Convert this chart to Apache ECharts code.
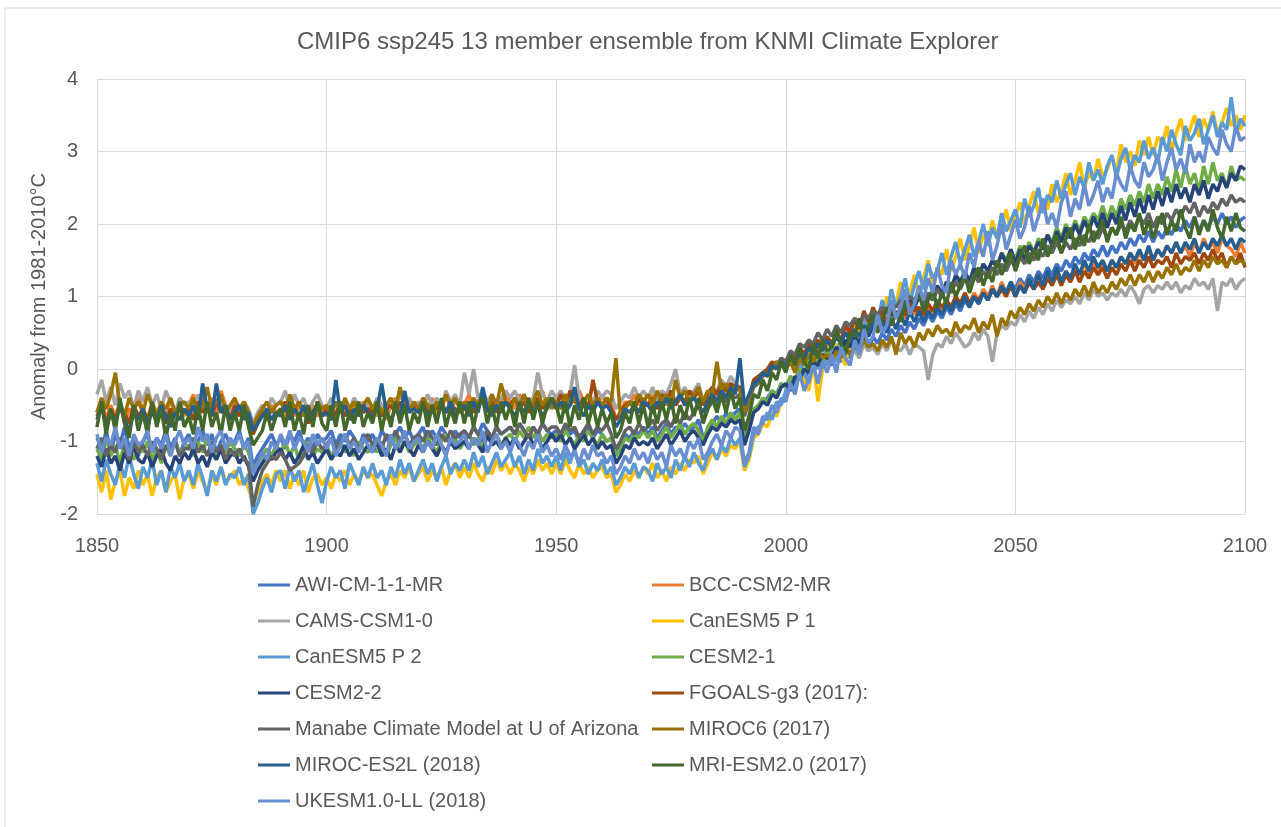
<!DOCTYPE html>
<html>
<head>
<meta charset="utf-8">
<title>CMIP6 ssp245 13 member ensemble</title>
<script src="https://cdn.jsdelivr.net/npm/echarts@6/dist/echarts.min.js"></script>
<style>
    html, body { margin: 0; padding: 0; background: #fff; }
    #chart { width: 1281px; height: 827px; }
</style>
</head>
<body>
<div id="chart"></div>
<script>
// annual values, 1850 to 2100 (one row per decade)
const startYear = 1850;

const awi = [
    -0.95,-1.1,-0.85,-1.15,-0.9,-1.05,-0.8,-1.1,-0.95,-1.2,
    -1.0,-0.9,-1.15,-0.95,-1.05,-0.85,-1.1,-0.95,-1.2,-1.0,
    -0.9,-1.1,-1.0,-0.85,-1.05,-0.9,-1.15,-1.0,-0.9,-1.05,
    -1.0,-0.85,-1.1,-0.95,-1.35,-1.2,-1.1,-1.0,-0.9,-1.05,
    -0.95,-1.1,-0.9,-1.0,-0.85,-1.05,-0.95,-1.1,-0.9,-1.0,
    -0.95,-0.85,-1.05,-0.9,-1.0,-0.85,-0.95,-1.1,-0.9,-1.0,
    -0.9,-1.05,-0.85,-0.95,-1.05,-0.9,-0.8,-0.95,-0.85,-1.0,
    -0.9,-0.8,-1.0,-0.85,-0.95,-0.8,-0.9,-1.0,-0.85,-0.95,
    -0.85,-0.95,-0.8,-0.9,-0.75,-0.85,-0.95,-0.8,-0.9,-0.85,
    -0.8,-0.9,-0.75,-0.85,-0.95,-0.8,-0.9,-0.75,-0.85,-0.9,
    -0.85,-0.95,-0.8,-0.9,-0.85,-1.0,-0.9,-0.8,-0.95,-0.85,
    -0.9,-1.0,-0.95,-1.15,-1.05,-0.9,-0.95,-0.85,-0.9,-0.8,
    -0.9,-0.8,-0.95,-0.85,-0.75,-0.9,-0.8,-0.85,-0.75,-0.85,
    -0.8,-0.7,-0.95,-0.85,-0.75,-0.65,-0.75,-0.6,-0.7,-0.6,
    -0.55,-0.95,-0.8,-0.6,-0.5,-0.45,-0.4,-0.3,-0.35,-0.2,
    -0.25,-0.15,-0.2,-0.05,-0.15,0.0,-0.05,0.1,0.0,0.15,
    0.05,0.2,0.1,0.25,0.15,0.3,0.2,0.35,0.25,0.45,
    0.35,0.5,0.4,0.55,0.45,0.6,0.5,0.65,0.55,0.7,
    0.6,0.75,0.65,0.8,0.7,0.85,0.75,0.9,0.8,0.95,
    0.85,1.0,0.9,1.05,0.95,1.1,1.0,1.15,1.05,1.2,
    1.1,1.25,1.15,1.3,1.2,1.35,1.25,1.4,1.3,1.45,
    1.35,1.5,1.4,1.55,1.45,1.6,1.5,1.65,1.55,1.7,
    1.55,1.7,1.6,1.75,1.65,1.8,1.7,1.85,1.75,1.9,
    1.75,1.9,1.8,1.95,1.85,2.0,1.9,2.05,1.95,2.1,
    1.9,2.05,1.95,2.1,2.0,2.15,2.0,2.1,1.95,2.05,
    2.1
];
const bcc = [
    -0.6,-0.4,-0.7,-0.5,-0.65,-0.45,-0.75,-0.55,-0.6,-0.4,
    -0.55,-0.7,-0.45,-0.6,-0.5,-0.7,-0.4,-0.6,-0.5,-0.65,
    -0.5,-0.35,-0.6,-0.3,-0.55,-0.4,-0.65,-0.3,-0.5,-0.6,
    -0.45,-0.65,-0.5,-0.6,-0.85,-0.7,-0.55,-0.65,-0.5,-0.6,
    -0.55,-0.7,-0.45,-0.65,-0.5,-0.6,-0.75,-0.5,-0.65,-0.55,
    -0.65,-0.5,-0.7,-0.55,-0.45,-0.65,-0.5,-0.6,-0.45,-0.55,
    -0.5,-0.65,-0.55,-0.7,-0.5,-0.4,-0.6,-0.5,-0.45,-0.55,
    -0.6,-0.45,-0.55,-0.4,-0.6,-0.5,-0.35,-0.55,-0.45,-0.5,
    -0.5,-0.35,-0.55,-0.45,-0.3,-0.5,-0.4,-0.55,-0.45,-0.35,
    -0.45,-0.55,-0.35,-0.5,-0.4,-0.55,-0.45,-0.3,-0.5,-0.4,
    -0.45,-0.55,-0.35,-0.5,-0.4,-0.3,-0.45,-0.55,-0.4,-0.5,
    -0.35,-0.5,-0.45,-0.7,-0.6,-0.45,-0.5,-0.35,-0.5,-0.4,
    -0.5,-0.35,-0.55,-0.4,-0.5,-0.3,-0.45,-0.35,-0.5,-0.3,
    -0.4,-0.25,-0.5,-0.35,-0.3,-0.4,-0.25,-0.35,-0.2,-0.3,
    -0.25,-0.6,-0.45,-0.2,-0.15,-0.05,-0.1,0.0,0.1,0.05,
    0.0,0.15,0.05,0.2,0.1,0.25,0.15,0.3,0.2,0.35,
    0.3,0.45,0.35,0.55,0.45,0.65,0.5,0.7,0.6,0.8,
    0.65,0.75,0.6,0.8,0.7,0.85,0.7,0.9,0.75,0.85,
    0.7,0.85,0.75,0.9,0.8,0.95,0.85,1.0,0.9,1.05,
    0.9,1.05,0.95,1.1,1.0,1.15,1.0,1.2,1.05,1.15,
    1.0,1.2,1.1,1.25,1.1,1.3,1.15,1.3,1.2,1.35,
    1.2,1.35,1.25,1.4,1.3,1.45,1.3,1.5,1.35,1.45,
    1.35,1.5,1.4,1.55,1.45,1.6,1.45,1.6,1.5,1.65,
    1.5,1.65,1.55,1.7,1.6,1.75,1.6,1.7,1.55,1.75,
    1.6,1.8,1.65,1.75,1.6,1.8,1.7,1.65,1.55,1.75,
    1.6
];
const cams = [
    -0.35,-0.15,-0.45,-0.25,-0.5,-0.2,-0.4,-0.3,-0.55,-0.3,
    -0.45,-0.25,-0.5,-0.35,-0.55,-0.3,-0.45,-0.6,-0.4,-0.5,
    -0.45,-0.6,-0.35,-0.55,-0.45,-0.65,-0.4,-0.55,-0.5,-0.6,
    -0.5,-0.65,-0.45,-0.55,-0.75,-0.6,-0.5,-0.6,-0.4,-0.5,
    -0.45,-0.3,-0.55,-0.35,-0.5,-0.4,-0.6,-0.45,-0.35,-0.5,
    -0.55,-0.4,-0.5,-0.6,-0.45,-0.55,-0.4,-0.5,-0.6,-0.45,
    -0.55,-0.4,-0.5,-0.6,-0.45,-0.55,-0.35,-0.5,-0.4,-0.55,
    -0.45,-0.55,-0.35,-0.5,-0.4,-0.55,-0.3,-0.45,-0.35,-0.5,
    -0.05,-0.35,0.0,-0.4,-0.3,-0.45,-0.35,-0.5,-0.4,-0.3,
    -0.4,-0.3,-0.45,-0.35,-0.5,-0.4,-0.05,-0.35,-0.45,-0.3,
    -0.4,-0.3,-0.45,-0.35,0.05,-0.4,-0.5,-0.35,-0.45,-0.3,
    -0.4,-0.3,-0.35,-0.55,-0.45,-0.35,-0.4,-0.25,-0.4,-0.3,
    -0.4,-0.25,-0.45,-0.3,-0.35,-0.2,0.0,-0.35,-0.25,-0.4,
    -0.3,-0.2,-0.45,-0.35,-0.25,-0.3,-0.15,-0.25,-0.1,-0.2,
    -0.25,-0.5,-0.4,-0.2,-0.15,-0.1,-0.05,0.0,0.1,0.05,
    0.0,0.1,0.05,0.15,0.05,0.2,0.1,0.15,0.25,0.15,
    0.1,0.2,0.15,0.3,0.2,0.25,0.15,0.35,0.25,0.3,
    0.2,0.35,0.25,0.4,0.3,0.25,0.35,0.2,0.35,0.3,
    0.25,-0.15,0.2,0.35,0.3,0.45,0.35,0.5,0.4,0.3,
    0.35,0.5,0.4,0.55,0.45,0.1,0.5,0.6,0.55,0.65,
    0.6,0.75,0.65,0.8,0.7,0.85,0.75,0.9,0.8,0.95,
    0.85,0.95,0.9,1.0,0.9,1.05,0.95,1.1,1.0,1.05,
    0.95,1.05,1.0,1.1,1.0,1.15,1.05,0.9,1.1,1.15,
    1.05,1.15,1.1,1.2,1.1,1.2,1.05,1.15,1.1,1.25,
    1.15,1.2,1.1,1.25,0.8,1.2,1.15,1.25,1.1,1.2,
    1.25
];
const canesmP1 = [
    -1.45,-1.7,-1.4,-1.8,-1.55,-1.4,-1.75,-1.5,-1.65,-1.4,
    -1.6,-1.45,-1.75,-1.5,-1.4,-1.7,-1.55,-1.45,-1.8,-1.5,
    -1.45,-1.65,-1.4,-1.55,-1.7,-1.45,-1.6,-1.35,-1.55,-1.5,
    -1.4,-1.6,-1.5,-1.65,-1.85,-1.7,-1.55,-1.45,-1.6,-1.4,
    -1.55,-1.4,-1.65,-1.45,-1.6,-1.4,-1.7,-1.5,-1.45,-1.6,
    -1.5,-1.65,-1.45,-1.55,-1.4,-1.6,-1.45,-1.55,-1.4,-1.5,
    -1.45,-1.6,-1.75,-1.55,-1.45,-1.6,-1.4,-1.5,-1.35,-1.55,
    -1.45,-1.35,-1.55,-1.4,-1.5,-1.35,-1.6,-1.4,-1.3,-1.5,
    -1.35,-1.5,-1.3,-1.45,-1.55,-1.35,-1.45,-1.25,-1.4,-1.3,
    -1.45,-1.3,-1.4,-1.55,-1.35,-1.45,-1.25,-1.4,-1.3,-1.45,
    -1.3,-1.45,-1.25,-1.4,-1.5,-1.3,-1.45,-1.35,-1.5,-1.4,
    -1.35,-1.5,-1.45,-1.7,-1.6,-1.45,-1.55,-1.4,-1.5,-1.35,
    -1.45,-1.3,-1.5,-1.4,-1.55,-1.35,-1.45,-1.3,-1.4,-1.25,
    -1.3,-1.2,-1.45,-1.3,-1.15,-1.25,-1.1,-1.2,-1.05,-1.1,
    -1.0,-1.4,-1.25,-0.95,-0.9,-0.75,-0.8,-0.6,-0.65,-0.45,
    -0.4,-0.2,-0.35,0.05,-0.15,-0.3,0.1,-0.45,0.0,0.15,
    0.1,0.35,0.2,0.05,0.45,0.3,0.55,0.4,0.75,0.5,
    0.8,0.6,1.0,0.75,0.9,1.2,0.8,1.05,1.3,1.0,
    1.25,1.5,1.15,1.4,1.3,1.65,1.35,1.55,1.8,1.5,
    1.7,1.95,1.6,1.85,1.75,2.05,1.8,1.95,2.2,1.9,
    2.1,2.3,2.0,2.25,2.45,2.15,2.35,2.2,2.55,2.3,
    2.45,2.7,2.4,2.6,2.85,2.5,2.7,2.6,2.9,2.65,
    2.75,2.95,2.7,3.1,2.85,3.0,2.8,3.15,2.95,3.2,
    2.95,3.2,3.1,3.35,3.0,3.25,3.45,3.15,3.3,3.5,
    3.2,3.45,3.3,3.55,3.25,3.4,3.6,3.35,3.5,3.3,
    3.5
];
const canesmP2 = [
    -1.3,-1.55,-1.25,-1.45,-1.6,-1.3,-1.5,-1.2,-1.45,-1.65,
    -1.35,-1.5,-1.25,-1.6,-1.4,-1.7,-1.35,-1.5,-1.3,-1.55,
    -1.4,-1.6,-1.3,-1.5,-1.75,-1.4,-1.55,-1.35,-1.6,-1.45,
    -1.5,-1.35,-1.6,-1.45,-2.0,-1.85,-1.65,-1.5,-1.7,-1.45,
    -1.4,-1.65,-1.35,-1.55,-1.4,-1.7,-1.5,-1.3,-1.6,-1.85,
    -1.55,-1.35,-1.5,-1.4,-1.65,-1.3,-1.45,-1.6,-1.35,-1.5,
    -1.3,-1.5,-1.4,-1.6,-1.35,-1.5,-1.25,-1.45,-1.3,-1.55,
    -1.4,-1.25,-1.45,-1.3,-1.55,-1.35,-1.2,-1.45,-1.3,-1.4,
    -1.25,-1.4,-1.15,-1.35,-1.2,-1.45,-1.3,-1.15,-1.35,-1.25,
    -1.15,-1.35,-1.2,-1.45,-1.25,-1.4,-1.1,-1.3,-1.2,-1.35,
    -1.2,-1.4,-1.15,-1.3,-1.1,-1.35,-1.25,-1.45,-1.3,-1.4,
    -1.25,-1.45,-1.35,-1.6,-1.5,-1.35,-1.45,-1.3,-1.5,-1.35,
    -1.4,-1.55,-1.3,-1.45,-1.35,-1.5,-1.25,-1.4,-1.2,-1.35,
    -1.15,-1.3,-1.4,-1.2,-1.1,-1.25,-1.05,-1.15,-0.95,-1.05,
    -0.95,-1.35,-1.2,-0.9,-0.8,-0.75,-0.6,-0.7,-0.45,-0.5,
    -0.3,-0.1,-0.25,0.1,-0.05,-0.2,0.15,0.0,0.2,0.05,
    0.3,0.1,0.45,0.25,0.6,0.35,0.3,0.7,0.5,0.8,
    0.65,0.95,0.75,1.1,0.85,1.0,1.25,0.9,1.15,1.35,
    1.1,1.45,1.25,1.35,1.6,1.3,1.55,1.75,1.45,1.65,
    1.85,1.55,1.75,2.0,1.7,1.95,1.8,2.15,1.9,2.05,
    2.2,1.95,2.35,2.1,2.25,2.5,2.15,2.4,2.3,2.6,
    2.35,2.55,2.7,2.4,2.65,2.5,2.85,2.6,2.75,2.55,
    2.8,2.95,2.65,2.9,3.05,2.75,2.95,2.85,3.15,2.9,
    3.05,2.85,3.2,3.0,3.3,3.1,2.95,3.35,3.15,3.25,
    3.45,3.1,3.3,3.5,3.2,3.4,3.3,3.75,3.25,3.45,
    3.35
];
const cesm21 = [
    -1.1,-1.25,-0.95,-1.2,-1.05,-1.3,-1.0,-1.15,-1.25,-1.05,
    -1.15,-1.0,-1.25,-1.1,-1.3,-1.05,-1.2,-1.0,-1.15,-1.1,
    -1.05,-1.2,-1.0,-1.15,-0.95,-1.1,-1.25,-1.05,-1.15,-1.0,
    -1.1,-1.2,-1.05,-1.15,-1.4,-1.3,-1.2,-1.1,-1.2,-1.05,
    -1.15,-1.0,-1.2,-1.05,-1.25,-1.1,-1.0,-1.2,-1.1,-1.15,
    -1.05,-1.2,-1.1,-1.0,-1.15,-1.05,-1.2,-1.0,-1.1,-1.15,
    -1.05,-1.15,-1.0,-1.2,-1.05,-0.95,-1.1,-1.0,-1.15,-1.05,
    -1.0,-1.1,-0.95,-1.05,-1.15,-1.0,-0.9,-1.05,-0.95,-1.1,
    -1.0,-0.9,-1.05,-0.95,-1.1,-0.85,-1.0,-0.9,-1.05,-0.95,
    -0.9,-1.0,-0.85,-0.95,-0.8,-0.95,-0.85,-1.0,-0.9,-0.95,
    -0.9,-1.0,-0.85,-0.95,-1.05,-0.9,-1.0,-0.85,-0.95,-1.05,
    -0.9,-1.0,-0.95,-1.2,-1.1,-0.95,-1.0,-0.9,-0.95,-0.85,
    -0.95,-0.85,-1.0,-0.9,-0.8,-0.95,-0.85,-0.75,-0.9,-0.8,
    -0.75,-0.85,-1.0,-0.8,-0.7,-0.8,-0.65,-0.75,-0.6,-0.7,
    -0.6,-1.0,-0.8,-0.55,-0.5,-0.4,-0.45,-0.3,-0.35,-0.2,
    -0.25,-0.1,-0.15,0.0,-0.05,0.1,0.05,0.15,0.1,0.25,
    0.15,0.3,0.2,0.4,0.3,0.5,0.4,0.55,0.5,0.65,
    0.55,0.7,0.6,0.8,0.7,0.85,0.75,0.95,0.85,1.0,
    0.9,1.05,0.95,1.1,1.0,1.2,1.1,1.25,1.15,1.35,
    1.2,1.4,1.3,1.45,1.35,1.5,1.4,1.6,1.5,1.65,
    1.5,1.7,1.55,1.75,1.6,1.8,1.7,1.85,1.75,1.95,
    1.8,2.0,1.85,2.05,1.9,2.1,2.0,2.15,2.05,2.25,
    2.05,2.25,2.1,2.35,2.2,2.4,2.25,2.45,2.3,2.55,
    2.35,2.55,2.4,2.65,2.45,2.75,2.5,2.8,2.55,2.7,
    2.45,2.8,2.55,2.85,2.6,2.7,2.5,2.8,2.6,2.65,
    2.6
];
const cesm22 = [
    -1.2,-1.35,-1.1,-1.3,-1.2,-1.4,-1.15,-1.3,-1.05,-1.25,
    -1.3,-1.15,-1.35,-1.2,-1.1,-1.3,-1.4,-1.2,-1.3,-1.15,
    -1.25,-1.1,-1.3,-1.2,-1.35,-1.15,-1.25,-1.1,-1.3,-1.2,
    -1.15,-1.3,-1.2,-1.35,-1.55,-1.4,-1.3,-1.2,-1.25,-1.15,
    -1.1,-1.25,-1.15,-1.3,-1.2,-1.05,-1.25,-1.15,-1.3,-1.2,
    -1.1,-1.25,-1.15,-1.2,-1.05,-1.2,-1.1,-1.25,-1.15,-1.05,
    -1.15,-1.0,-1.2,-1.1,-1.25,-1.05,-1.15,-1.0,-1.1,-1.2,
    -1.05,-1.15,-1.0,-1.1,-1.2,-1.05,-1.15,-1.0,-1.1,-1.05,
    -1.0,-1.1,-0.95,-1.05,-1.15,-0.9,-1.05,-1.0,-1.1,-0.95,
    -1.05,-0.95,-1.1,-1.0,-0.9,-1.05,-0.95,-1.1,-1.0,-0.9,
    -1.0,-0.9,-1.05,-0.95,-1.1,-1.0,-0.9,-1.05,-0.95,-1.1,
    -1.0,-1.1,-1.05,-1.3,-1.2,-1.05,-1.1,-0.95,-1.05,-1.0,
    -1.05,-0.95,-1.1,-1.0,-0.9,-1.05,-0.95,-0.85,-1.0,-0.9,
    -0.85,-0.95,-1.05,-0.9,-0.8,-0.85,-0.75,-0.8,-0.7,-0.75,
    -0.7,-1.05,-0.85,-0.6,-0.55,-0.45,-0.5,-0.35,-0.4,-0.25,
    -0.2,-0.3,-0.1,-0.15,0.0,-0.05,0.1,0.05,0.2,0.15,
    0.15,0.3,0.2,0.4,0.3,0.45,0.35,0.55,0.45,0.6,
    0.55,0.7,0.6,0.8,0.7,0.85,0.8,0.95,0.85,1.0,
    0.9,1.05,0.95,1.15,1.05,1.2,1.1,1.3,1.2,1.35,
    1.2,1.4,1.25,1.45,1.35,1.5,1.4,1.6,1.45,1.65,
    1.45,1.65,1.5,1.7,1.6,1.75,1.65,1.85,1.7,1.9,
    1.75,1.95,1.8,2.0,1.85,2.05,1.9,2.1,1.95,2.15,
    1.95,2.15,2.0,2.25,2.05,2.3,2.1,2.35,2.15,2.4,
    2.2,2.45,2.25,2.5,2.3,2.55,2.35,2.5,2.3,2.55,
    2.4,2.6,2.35,2.55,2.45,2.65,2.5,2.7,2.6,2.8,
    2.75
];
const fgoals = [
    -0.65,-0.5,-0.75,-0.55,-0.7,-0.5,-0.6,-0.75,-0.5,-0.65,
    -0.55,-0.7,-0.5,-0.65,-0.6,-0.75,-0.55,-0.65,-0.5,-0.6,
    -0.55,-0.7,-0.45,-0.6,-0.5,-0.65,-0.45,-0.6,-0.55,-0.7,
    -0.5,-0.65,-0.55,-0.7,-0.9,-0.75,-0.6,-0.7,-0.55,-0.65,
    -0.6,-0.45,-0.65,-0.5,-0.7,-0.55,-0.75,-0.6,-0.5,-0.65,
    -0.55,-0.7,-0.6,-0.5,-0.65,-0.55,-0.7,-0.5,-0.6,-0.55,
    -0.6,-0.5,-0.65,-0.55,-0.5,-0.6,-0.45,-0.6,-0.55,-0.5,
    -0.55,-0.45,-0.6,-0.5,-0.55,-0.45,-0.6,-0.5,-0.55,-0.6,
    -0.55,-0.45,-0.6,-0.5,-0.4,-0.55,-0.45,-0.6,-0.5,-0.45,
    -0.5,-0.4,-0.55,-0.45,-0.6,-0.5,-0.4,-0.55,-0.45,-0.5,
    -0.5,-0.35,-0.55,-0.3,-0.45,-0.5,-0.4,-0.55,-0.15,-0.45,
    -0.5,-0.4,-0.55,-0.7,-0.6,-0.5,-0.45,-0.55,-0.4,-0.5,
    -0.5,-0.4,-0.55,-0.35,-0.45,-0.3,-0.5,-0.4,-0.45,-0.3,
    -0.4,-0.3,-0.5,-0.35,-0.25,-0.35,-0.2,-0.3,-0.2,-0.25,
    -0.25,-0.55,-0.4,-0.15,-0.1,-0.05,0.0,0.1,0.05,0.15,
    0.1,0.2,0.15,0.3,0.2,0.35,0.25,0.4,0.3,0.45,
    0.35,0.5,0.4,0.6,0.5,0.7,0.55,0.8,0.65,0.85,
    0.7,0.8,0.65,0.85,0.7,0.8,0.75,0.9,0.8,0.85,
    0.75,0.9,0.8,0.95,0.85,0.95,0.85,1.0,0.9,1.05,
    0.9,1.0,0.95,1.05,0.95,1.1,1.0,1.1,1.0,1.15,
    1.0,1.15,1.05,1.2,1.1,1.2,1.1,1.25,1.15,1.3,
    1.15,1.3,1.2,1.35,1.2,1.35,1.25,1.4,1.3,1.4,
    1.25,1.4,1.3,1.45,1.35,1.5,1.35,1.5,1.4,1.55,
    1.4,1.5,1.45,1.55,1.4,1.6,1.45,1.55,1.5,1.6,
    1.45,1.6,1.5,1.65,1.5,1.6,1.4,1.55,1.45,1.6,
    1.4
];
const manabe = [
    -1.1,-0.95,-1.2,-1.05,-1.15,-0.95,-1.1,-1.25,-1.0,-1.15,
    -1.05,-1.2,-1.0,-1.1,-1.25,-1.05,-1.15,-1.0,-1.2,-1.1,
    -1.1,-0.95,-1.15,-1.05,-1.2,-1.0,-1.15,-1.05,-1.25,-1.1,
    -1.2,-1.1,-1.25,-1.3,-1.9,-1.6,-1.4,-1.3,-1.2,-1.25,
    -1.15,-1.25,-1.4,-1.35,-1.3,-1.2,-1.05,-1.15,-1.0,-1.1,
    -1.05,-0.95,-1.1,-1.0,-0.9,-1.05,-0.95,-1.1,-1.0,-0.9,
    -1.05,-0.95,-1.1,-0.9,-1.0,-0.85,-1.0,-0.9,-1.05,-0.95,
    -0.9,-1.0,-0.85,-0.95,-1.05,-0.9,-1.0,-0.85,-0.95,-0.9,
    -0.85,-0.95,-0.8,-0.9,-1.0,-0.85,-0.95,-0.8,-0.9,-0.85,
    -0.8,-0.9,-0.75,-0.85,-0.95,-0.8,-0.9,-0.75,-0.85,-0.8,
    -0.8,-0.9,-0.75,-0.85,-0.8,-0.95,-0.85,-0.75,-0.9,-0.8,
    -0.85,-0.75,-0.9,-1.1,-1.0,-0.85,-0.8,-0.9,-0.75,-0.85,
    -0.8,-0.7,-0.85,-0.75,-0.7,-0.8,-0.65,-0.75,-0.6,-0.7,
    -0.6,-0.5,-0.7,-0.55,-0.45,-0.5,-0.4,-0.45,-0.35,-0.4,
    -0.35,-0.65,-0.45,-0.25,-0.2,-0.1,-0.05,0.05,0.0,0.15,
    0.1,0.25,0.2,0.35,0.3,0.4,0.35,0.5,0.4,0.55,
    0.45,0.6,0.5,0.65,0.6,0.7,0.6,0.75,0.7,0.8,
    0.75,0.85,0.8,0.9,0.85,0.95,0.9,1.0,0.95,1.05,
    0.9,1.05,0.95,1.1,1.0,1.15,1.05,1.2,1.1,1.25,
    1.15,1.3,1.2,1.35,1.25,1.4,1.3,1.45,1.35,1.5,
    1.4,1.55,1.45,1.6,1.5,1.65,1.55,1.7,1.6,1.75,
    1.6,1.75,1.65,1.8,1.7,1.85,1.75,1.9,1.8,1.95,
    1.8,1.95,1.85,2.0,1.9,2.05,1.95,2.1,2.0,2.15,
    1.95,2.1,2.0,2.15,2.05,2.2,2.1,2.25,2.15,2.3,
    2.1,2.25,2.15,2.3,2.2,2.35,2.25,2.4,2.3,2.35,
    2.3
];
const miroc6 = [
    -0.6,-0.4,-0.55,-0.35,-0.05,-0.5,-0.65,-0.4,-0.55,-0.45,
    -0.6,-0.35,-0.5,-0.65,-0.45,-0.55,-0.4,-0.6,-0.5,-0.45,
    -0.55,-0.4,-0.6,-0.5,-0.25,-0.55,-0.45,-0.35,-0.6,-0.5,
    -0.4,-0.55,-0.45,-0.6,-0.8,-0.65,-0.55,-0.45,-0.6,-0.5,
    -0.45,-0.6,-0.35,-0.55,-0.45,-0.65,-0.5,-0.7,-0.45,-0.55,
    -0.5,-0.65,-0.45,-0.6,-0.4,-0.55,-0.45,-0.6,-0.5,-0.4,
    -0.55,-0.45,-0.6,-0.5,-0.4,-0.55,-0.25,-0.5,-0.6,-0.45,
    -0.55,-0.4,-0.5,-0.6,-0.45,-0.55,-0.35,-0.5,-0.4,-0.55,
    -0.45,-0.55,-0.4,-0.5,-0.45,-0.6,-0.35,-0.5,-0.2,-0.45,
    -0.55,-0.4,-0.5,-0.35,-0.55,-0.45,-0.3,-0.5,-0.4,-0.55,
    -0.45,-0.55,-0.35,-0.5,-0.4,-0.55,-0.45,-0.35,-0.5,-0.4,
    -0.5,-0.4,-0.45,0.15,-0.65,-0.55,-0.45,-0.5,-0.35,-0.45,
    -0.35,-0.5,-0.3,-0.45,-0.35,-0.5,-0.15,-0.4,-0.3,-0.45,
    -0.35,-0.25,-0.45,-0.3,-0.35,0.1,-0.3,-0.2,-0.35,-0.25,
    -0.3,-0.6,-0.4,-0.2,-0.15,-0.05,-0.1,0.0,0.1,0.05,
    0.0,0.1,-0.05,0.15,0.05,0.2,0.1,0.25,0.15,0.2,
    0.1,0.25,0.15,0.3,0.2,0.35,0.25,0.4,0.3,0.35,
    0.25,0.4,0.3,0.45,0.2,0.5,0.35,0.45,0.3,0.5,
    0.4,0.55,0.45,0.6,0.5,0.55,0.45,0.65,0.5,0.6,
    0.55,0.7,0.5,0.65,0.55,0.75,0.45,0.7,0.6,0.8,
    0.7,0.85,0.75,0.9,0.8,0.95,0.85,1.0,0.9,1.05,
    0.9,1.05,0.95,1.1,1.0,1.15,1.0,1.2,1.05,1.15,
    1.05,1.2,1.1,1.25,1.15,1.3,1.15,1.3,1.2,1.35,
    1.2,1.35,1.25,1.4,1.3,1.45,1.3,1.4,1.35,1.5,
    1.35,1.5,1.4,1.55,1.45,1.5,1.4,1.55,1.45,1.5,
    1.45
];
const mirocEs2l = [
    -0.7,-0.5,-0.8,-0.6,-0.75,-0.5,-0.7,-0.85,-0.6,-0.7,
    -0.55,-0.75,-0.6,-0.7,-0.5,-0.65,-0.8,-0.6,-0.7,-0.55,
    -0.65,-0.5,-0.7,-0.2,-0.55,-0.65,-0.2,-0.6,-0.5,-0.7,
    -0.6,-0.5,-0.7,-0.6,-0.85,-0.75,-0.65,-0.55,-0.7,-0.6,
    -0.65,-0.5,-0.7,-0.55,-0.65,-0.5,-0.7,-0.6,-0.5,-0.65,
    -0.6,-0.7,-0.15,-0.6,-0.5,-0.7,-0.55,-0.65,-0.5,-0.6,
    -0.65,-0.55,-0.2,-0.6,-0.7,-0.55,-0.65,-0.3,-0.6,-0.55,
    -0.6,-0.5,-0.65,-0.55,-0.7,-0.5,-0.6,-0.45,-0.65,-0.55,
    -0.5,-0.65,-0.45,-0.6,-0.25,-0.55,-0.65,-0.5,-0.6,-0.45,
    -0.55,-0.65,-0.5,-0.6,-0.45,-0.6,-0.5,-0.65,-0.55,-0.4,
    -0.55,-0.45,-0.6,-0.5,-0.25,-0.55,-0.65,-0.5,-0.6,-0.45,
    -0.55,-0.5,-0.6,-0.8,-0.7,-0.55,-0.6,-0.5,-0.6,-0.45,
    -0.5,-0.6,-0.45,-0.55,-0.4,-0.55,-0.45,-0.35,-0.5,-0.45,
    -0.4,-0.5,-0.6,-0.45,-0.35,-0.45,-0.3,-0.4,-0.25,-0.35,
    0.15,-0.5,-0.35,-0.2,-0.15,-0.05,-0.1,0.05,0.0,0.1,
    0.05,0.15,0.1,0.2,0.15,0.3,0.2,0.35,0.25,0.4,
    0.3,0.45,0.35,0.5,0.4,0.55,0.45,0.6,0.5,0.65,
    0.55,0.65,0.5,0.7,0.55,0.75,0.6,0.8,0.65,0.8,
    0.65,0.8,0.7,0.85,0.75,0.9,0.8,0.95,0.85,1.0,
    0.85,1.0,0.9,1.05,0.95,1.1,1.0,1.15,1.05,1.2,
    1.0,1.15,1.05,1.25,1.1,1.3,1.15,1.35,1.2,1.4,
    1.2,1.35,1.25,1.45,1.3,1.5,1.35,1.55,1.4,1.5,
    1.35,1.5,1.4,1.55,1.45,1.6,1.5,1.65,1.5,1.7,
    1.5,1.65,1.55,1.7,1.6,1.75,1.6,1.75,1.65,1.8,
    1.6,1.75,1.65,1.8,1.7,1.85,1.7,1.8,1.65,1.8,
    1.75
];
const mri = [
    -0.8,-0.45,-0.9,-0.55,-0.85,-0.4,-0.75,-0.95,-0.5,-0.85,
    -0.6,-0.9,-0.45,-0.8,-0.55,-0.95,-0.6,-0.85,-0.45,-0.8,
    -0.65,-0.9,-0.5,-0.85,-0.45,-0.8,-0.6,-0.9,-0.5,-0.85,
    -0.6,-0.85,-0.5,-0.8,-1.05,-0.95,-0.85,-0.6,-0.85,-0.65,
    -0.55,-0.8,-0.45,-0.85,-0.6,-0.9,-0.5,-0.8,-0.45,-0.75,
    -0.85,-0.5,-0.8,-0.45,-0.85,-0.6,-0.75,-0.45,-0.8,-0.6,
    -0.75,-0.45,-0.85,-0.55,-0.8,-0.45,-0.75,-0.5,-0.85,-0.6,
    -0.75,-0.45,-0.8,-0.5,-0.75,-0.4,-0.8,-0.55,-0.75,-0.45,
    -0.75,-0.45,-0.8,-0.5,-0.4,-0.75,-0.5,-0.8,-0.45,-0.7,
    -0.5,-0.8,-0.45,-0.75,-0.4,-0.7,-0.45,-0.75,-0.5,-0.4,
    -0.5,-0.75,-0.45,-0.8,-0.5,-0.7,-0.4,-0.75,-0.5,-0.8,
    -0.55,-0.75,-0.6,-0.95,-0.85,-0.6,-0.75,-0.45,-0.75,-0.5,
    -0.8,-0.5,-0.75,-0.45,-0.7,-0.4,-0.75,-0.5,-0.7,-0.4,
    -0.65,-0.4,-0.75,-0.55,-0.4,-0.6,-0.35,-0.6,-0.3,-0.55,
    -0.4,-0.85,-0.65,-0.35,-0.4,-0.15,-0.3,-0.05,-0.15,0.1,
    -0.05,0.2,0.05,0.3,0.1,0.0,0.35,0.15,0.4,0.25,
    0.3,0.55,0.35,0.2,0.5,0.45,0.7,0.4,0.6,0.75,
    0.5,0.7,0.85,0.6,0.8,0.65,0.95,0.75,0.9,1.05,
    0.8,0.95,1.1,0.85,1.05,0.9,1.2,1.0,1.15,1.3,
    1.05,1.25,1.4,1.15,1.35,1.2,1.5,1.3,1.45,1.6,
    1.35,1.55,1.7,1.45,1.65,1.5,1.8,1.55,1.7,1.85,
    1.6,1.8,1.95,1.65,1.85,1.7,2.0,1.75,1.9,2.05,
    1.75,1.95,1.85,2.1,1.8,2.0,1.9,2.15,1.85,2.05,
    1.8,2.0,2.15,1.85,2.05,1.9,2.2,1.95,1.8,2.1,
    1.85,2.05,1.9,2.2,1.95,1.8,2.1,1.9,2.15,1.95,
    1.9
];
const ukesm = [
    -0.9,-1.15,-0.95,-1.05,-0.8,-1.1,-0.95,-1.2,-0.9,-1.05,
    -1.0,-0.85,-1.15,-0.95,-1.1,-0.9,-1.2,-1.0,-0.85,-1.05,
    -0.95,-1.1,-0.8,-1.0,-0.9,-1.15,-0.95,-0.85,-1.1,-0.95,
    -1.05,-0.9,-1.1,-1.0,-1.45,-1.3,-1.15,-1.25,-1.0,-1.1,
    -0.9,-1.05,-0.85,-1.1,-0.95,-1.0,-1.15,-0.9,-1.05,-0.95,
    -1.1,-0.95,-1.2,-1.05,-0.9,-1.1,-1.0,-1.15,-0.95,-1.05,
    -1.15,-0.95,-1.05,-1.2,-0.9,-1.1,-1.0,-0.85,-1.1,-1.0,
    -0.95,-1.15,-1.0,-1.1,-0.9,-1.05,-1.2,-0.95,-1.05,-1.0,
    -0.9,-1.1,-0.95,-1.05,-0.85,-1.15,-1.0,-0.9,-1.1,-1.0,
    -1.15,-0.95,-1.05,-1.2,-1.0,-1.1,-0.9,-1.15,-1.05,-1.2,
    -1.1,-1.25,-1.05,-1.2,-1.15,-1.3,-1.1,-1.25,-1.05,-1.2,
    -1.15,-1.3,-1.2,-1.45,-1.35,-1.2,-1.3,-1.1,-1.25,-1.15,
    -1.3,-1.1,-1.25,-1.15,-1.35,-1.05,-1.2,-1.1,-1.25,-1.0,
    -1.1,-0.95,-1.25,-1.15,-1.0,-0.9,-1.05,-0.85,-0.95,-0.8,
    -0.85,-1.3,-1.15,-0.8,-0.9,-0.65,-0.7,-0.5,-0.6,-0.4,
    -0.45,-0.2,-0.35,-0.05,-0.3,-0.15,0.05,-0.2,0.1,-0.05,
    0.2,-0.05,0.3,0.15,0.05,0.4,0.2,0.55,0.35,0.45,
    0.75,0.5,0.6,0.95,0.7,0.85,1.1,0.75,0.9,1.15,
    0.95,1.25,1.05,1.4,1.15,1.05,1.5,1.3,1.45,1.25,
    1.6,1.4,1.75,1.55,1.9,1.5,1.7,2.0,1.65,1.85,
    2.05,1.8,1.95,2.25,1.9,2.1,2.35,2.0,2.15,1.95,
    2.3,2.45,2.1,2.35,2.2,2.55,2.25,2.4,2.6,2.3,
    2.5,2.35,2.7,2.55,2.45,2.8,2.6,2.5,2.85,2.65,
    2.75,2.95,2.6,2.85,3.05,2.75,2.9,2.7,3.1,2.85,
    3.0,2.85,3.2,3.05,2.95,3.3,3.1,3.0,3.35,3.15,
    3.2
];

const seriesNames = [
    'AWI-CM-1-1-MR', 'BCC-CSM2-MR', 'CAMS-CSM1-0', 'CanESM5 P 1', 'CanESM5 P 2',
    'CESM2-1', 'CESM2-2', 'FGOALS-g3 (2017):', 'Manabe Climate Model at U of Arizona',
    'MIROC6 (2017)', 'MIROC-ES2L (2018)', 'MRI-ESM2.0 (2017)', 'UKESM1.0-LL (2018)'
];
const seriesValues = [awi, bcc, cams, canesmP1, canesmP2, cesm21, cesm22, fgoals, manabe, miroc6, mirocEs2l, mri, ukesm];
const seriesColors = [
    '#4472C4', '#ED7D31', '#A5A5A5', '#FFC000', '#5B9BD5', '#70AD47', '#264478',
    '#9E480E', '#636363', '#997300', '#255E91', '#43682B', '#698ED0'
];

const textColor = '#595959';
const gridColor = '#d9d9d9';
const font = 'Liberation Sans, Arial, sans-serif';

let chart = echarts.init(document.getElementById('chart'));

let series = seriesNames.map(function (name, i) {
    return {
        name: name,
        type: 'line',
        symbol: 'none',
        color: seriesColors[i],
        lineStyle: { width: 3.5, color: seriesColors[i] },
        data: seriesValues[i].map(function (v, k) {
            return [startYear + k, v];
        })
    };
});

let option = {
    animation: false,
    backgroundColor: '#fff',
    textStyle: { fontFamily: font, color: textColor },
    title: {
        text: 'CMIP6 ssp245 13 member ensemble from KNMI Climate Explorer',
        left: 297,
        top: 30,
        padding: 0,
        textStyle: { fontSize: 24, fontWeight: 'normal', color: textColor, fontFamily: font }
    },
    graphic: [{
        type: 'rect',
        shape: { x: 5, y: 8, width: 1300, height: 840 },
        style: { fill: 'none', stroke: gridColor, lineWidth: 1 },
        silent: true
    }],
    legend: [{
        orient: 'vertical',
        left: 258,
        top: 575,
        padding: 0,
        itemGap: 16,
        itemWidth: 32,
        itemHeight: 3,
        icon: 'rect',
        data: [seriesNames[0], seriesNames[2], seriesNames[4], seriesNames[6], seriesNames[8], seriesNames[10], seriesNames[12]],
        textStyle: { fontSize: 20, lineHeight: 20, color: textColor, fontFamily: font }
    }, {
        orient: 'vertical',
        left: 652,
        top: 575,
        padding: 0,
        itemGap: 16,
        itemWidth: 32,
        itemHeight: 3,
        icon: 'rect',
        data: [seriesNames[1], seriesNames[3], seriesNames[5], seriesNames[7], seriesNames[9], seriesNames[11]],
        textStyle: { fontSize: 20, lineHeight: 20, color: textColor, fontFamily: font }
    }],
    grid: { left: 97, right: 36, top: 79, bottom: 313, containLabel: false },
    xAxis: {
        type: 'value',
        min: 1850,
        max: 2100,
        interval: 50,
        axisLine: { show: false },
        axisTick: { show: false },
        splitLine: { show: true, lineStyle: { color: gridColor, width: 1 } },
        axisLabel: {
            margin: 22, fontSize: 20, color: textColor, fontFamily: font,
            formatter: function (v) { return String(v); }
        }
    },
    yAxis: {
        type: 'value',
        min: -2,
        max: 4,
        interval: 1,
        name: 'Anomaly from 1981-2010°C',
        nameLocation: 'middle',
        nameGap: 33,
        nameTextStyle: { fontSize: 20, color: textColor, fontFamily: font },
        axisLine: { show: false },
        axisTick: { show: false },
        splitLine: { show: true, lineStyle: { color: gridColor, width: 1 } },
        axisLabel: { margin: 19, fontSize: 20, color: textColor, fontFamily: font }
    },
    series: series
};

chart.setOption(option);
</script>
</body>
</html>
